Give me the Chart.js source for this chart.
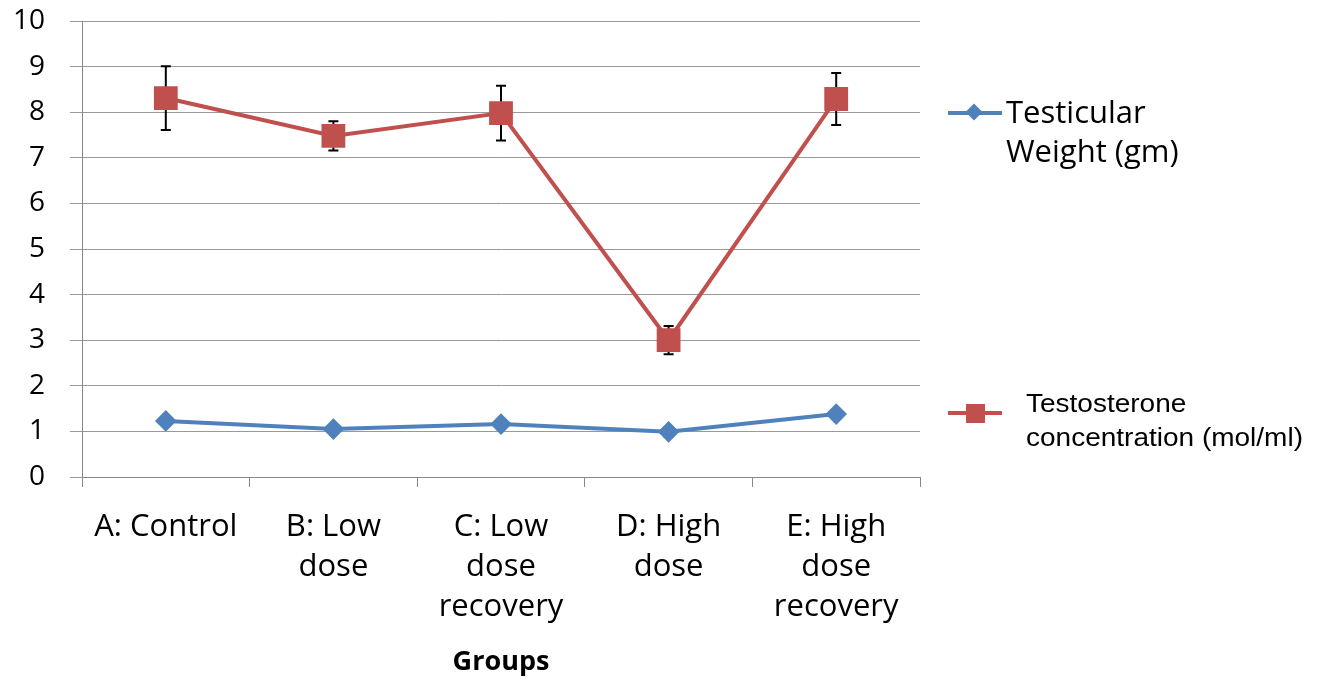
<!DOCTYPE html>
<html>
<head>
<meta charset="utf-8">
<script src="https://cdn.jsdelivr.net/npm/chart.js@4.4.0/dist/chart.umd.min.js"></script>
<style>
  body { margin: 0; background: #fff; }
  #wrap { position: relative; width: 1319px; height: 680px; }
  .leg { position: absolute; }
  .legline { position: absolute; height: 4px; }
  .legtext { position: absolute; color: #000; white-space: nowrap; transform-origin: left top; }
</style>
</head>
<body>
<div id="wrap">
  <canvas id="grafico" width="1319" height="680"></canvas>

  <div class="legline" style="left:948px; top:111px; width:54px; background:#4F81BD;"></div>
  <div class="leg" style="left:968px; top:106px; width:12px; height:12px; background:#4F81BD; transform:rotate(45deg);"></div>
  <div class="legtext" style="left:1006px; top:92px; font-family:'Open Sans'; font-size:31px; line-height:39px;">Testicular<br>Weight (gm)</div>

  <div class="legline" style="left:948px; top:411px; width:54px; background:#C0504D;"></div>
  <div class="leg" style="left:966px; top:404px; width:19px; height:19px; background:#C0504D;"></div>
  <div class="legtext" style="left:1026px; top:386px; font-family:'Liberation Sans', Arial, sans-serif; font-size:25px; line-height:34px; transform:scaleX(1.12);">Testosterone<br>concentration (mol/ml)</div>
</div>
<script>
const grupos = [["A: Control"], ["B: Low", "dose"], ["C: Low", "dose", "recovery"], ["D: High", "dose"], ["E: High", "dose", "recovery"]];
const pesoTesticular = [1.23, 1.05, 1.16, 0.99, 1.38];
const errorPeso = [0, 0, 0, 0.1, 0];
const testosterona = [8.31, 7.48, 7.98, 3.0, 8.29];
const errorTestosterona = [0.7, 0.32, 0.6, 0.31, 0.57];
const ticksY = [0, 1, 2, 3, 4, 5, 6, 7, 8, 9, 10];

// barras de error dibujadas con las escalas del grafico
const barrasError = {
    id: "barrasError",
    beforeDatasetsDraw(chart) {
        const ctx = chart.ctx;
        const x = chart.scales.x;
        const y = chart.scales.y;
        ctx.save();
        ctx.strokeStyle = "#000";
        ctx.lineWidth = 2;
        chart.data.datasets.forEach((ds) => {
            ds.data.forEach((v, i) => {
                const e = ds.errores[i];
                if (!e) return;
                const px = x.getPixelForValue(i);
                const top = y.getPixelForValue(v + e);
                const bot = y.getPixelForValue(v - e);
                ctx.beginPath();
                ctx.moveTo(px, top); ctx.lineTo(px, bot);
                ctx.moveTo(px - 5, top); ctx.lineTo(px + 5, top);
                ctx.moveTo(px - 5, bot); ctx.lineTo(px + 5, bot);
                ctx.stroke();
            });
        });
        ctx.restore();
    }
};

const ctx = document.getElementById("grafico").getContext("2d");
new Chart(ctx, {
    type: "line",
    data: {
        labels: grupos,
        datasets: [{
            label: "Testicular Weight (gm)",
            data: pesoTesticular,
            errores: errorPeso,
            borderColor: "#4F81BD",
            backgroundColor: "#4F81BD",
            borderWidth: 4,
            pointStyle: "rectRot",
            pointRadius: 8,
            pointHoverRadius: 8,
            tension: 0
        }, {
            label: "Testosterone concentration (mol/ml)",
            data: testosterona,
            errores: errorTestosterona,
            borderColor: "#C0504D",
            backgroundColor: "#C0504D",
            borderWidth: 4,
            pointStyle: "rect",
            pointRadius: 14,
            pointHoverRadius: 14,
            tension: 0
        }]
    },
    options: {
        responsive: false,
        animation: false,
        layout: { padding: { left: 10, top: 21, right: 399, bottom: 0 } },
        plugins: { legend: { display: false }, tooltip: { enabled: false } },
        scales: {
            x: {
                offset: true,
                grid: { offset: true, drawOnChartArea: false, color: "#888", tickLength: 10 },
                border: { color: "#888" },
                ticks: { color: "#000", padding: 20, maxRotation: 0, font: { family: "Open Sans", size: 31, lineHeight: 1.29 } },
                title: { display: true, text: "Groups", color: "#000", padding: { top: 12, bottom: 1 }, font: { family: "Open Sans", size: 27, weight: "bold" } },
                afterFit: (s) => { s.height = 203; }
            },
            y: {
                min: 0,
                max: 10,
                afterBuildTicks: (s) => { s.ticks = ticksY.map((v) => ({ value: v })); },
                grid: { color: "#999", tickLength: 12 },
                border: { color: "#888" },
                ticks: { color: "#000", padding: 25, font: { family: "Open Sans", size: 28 } },
                afterFit: (s) => { s.width = 72; s.paddingTop = 0; s.paddingBottom = 0; }
            }
        }
    },
    plugins: [barrasError]
});
</script>
</body>
</html>
